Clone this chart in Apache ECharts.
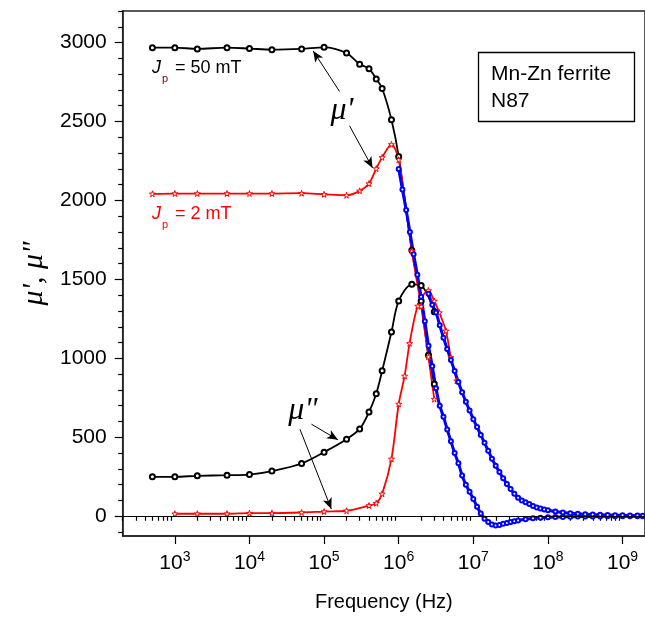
<!DOCTYPE html>
<html><head><meta charset="utf-8">
<script src="https://cdn.jsdelivr.net/npm/echarts@6/dist/echarts.min.js"></script>
<style>html,body{margin:0;padding:0;background:#fff}#c{width:645px;height:617px}</style>
</head><body><div id="c"></div>
<script>
// ---- data (frequency in Hz, permeability values) ----
const blackMuPFreq = [500, 1e3, 2e3, 5e3, 1e4, 2e4, 5e4, 1e5, 2e5, 3e5, 4e5, 5e5, 6e5, 8e5, 1e6, 1.5e6, 2e6, 2.5e6, 3e6];
const blackMuP     = [2968, 2968, 2960, 2968, 2962, 2955, 2960, 2970, 2934, 2863, 2835, 2770, 2709, 2511, 2279, 1685, 1363, 1020, 837];
const blackMuPPFreq = [500, 1e3, 2e3, 5e3, 1e4, 2e4, 5e4, 1e5, 2e5, 3e5, 4e5, 5e5, 6e5, 8e5, 1e6, 1.5e6, 2e6, 3e6];
const blackMuPP     = [250, 250, 256, 260, 264, 286, 334, 406, 488, 553, 660, 776, 921, 1167, 1364, 1469, 1462, 1296];
const redMuPFreq = [500, 1e3, 2e3, 5e3, 1e4, 2e4, 5e4, 1e5, 2e5, 3e5, 4e5, 5e5, 6e5, 8e5, 1e6, 1.5e6, 2e6, 2.5e6, 3e6];
const redMuP     = [2042, 2044, 2044, 2044, 2044, 2044, 2046, 2039, 2033, 2061, 2107, 2202, 2273, 2355, 2258, 1679, 1330, 1010, 742];
const redMuPPFreq = [1e3, 2e3, 5e3, 1e4, 2e4, 5e4, 1e5, 2e5, 4e5, 5e5, 6e5, 8e5, 1e6, 1.2e6, 1.4e6, 1.8e6, 2.5e6, 3e6, 3.5e6, 4.3e6, 5e6, 6e6];
const redMuPP     = [16, 16, 16, 20, 20, 24, 30, 35, 68, 83, 142, 363, 711, 889, 1095, 1332, 1430, 1363, 1290, 1174, 1006, 858];
// high-frequency measurement (log10 of frequency in Hz)
const blueMuPLogF = [6.00,6.05,6.10,6.15,6.20,6.25,6.30,6.35,6.40,6.45,6.50,6.55,6.60,6.65,6.70,6.75,6.80,6.85,6.90,6.95,7.00,7.05,7.10,7.15,7.20,7.25,7.30,7.35,7.40,7.45,7.50,7.55,7.60,7.70,7.80,7.90,8.00,8.10,8.20,8.30,8.40,8.50,8.60,8.70,8.80,8.90,9.00,9.10,9.20,9.27];
const blueMuP     = [2200,2070,1940,1800,1660,1530,1390,1235,1080,950,810,700,630,550,475,400,335,258,200,155,110,60,18,-15,-37,-52,-59,-55,-48,-42,-37,-32,-27,-19,-13,-9,-7,-5,-4,-3,-2,-2,-1,-1,0,0,0,0,0,0];
const blueMuPPLogF = [6.40,6.45,6.50,6.55,6.60,6.65,6.70,6.75,6.80,6.85,6.90,6.95,7.00,7.05,7.10,7.15,7.20,7.25,7.30,7.35,7.40,7.45,7.50,7.55,7.60,7.65,7.70,7.75,7.80,7.85,7.90,7.95,8.00,8.10,8.20,8.30,8.40,8.50,8.60,8.70,8.80,8.90,9.00,9.10,9.20,9.27];
const blueMuPP     = [1410,1340,1290,1210,1130,1060,990,920,850,785,725,670,615,565,515,465,415,365,320,280,240,205,172,142,118,100,88,78,65,56,49,43,38,30,24,19,16,13,11,9,8,7,6,5,5,4];
const yMajorTicks = [0, 500, 1000, 1500, 2000, 2500, 3000];
const xMajorExp = [3, 4, 5, 6, 7, 8, 9];

// ---- build ----
const lg = Math.log10;
const fPairs = (f, v) => f.map((x, i) => [lg(x), v[i]]);
const lPairs = (l, v) => l.map((x, i) => [x, v[i]]);
const xMin = lg(200), xMax = lg(2e9);
const minorX = [];
for (let n = 2; n <= 9; n++) for (let k = 2; k <= 9; k++) { const f = k * Math.pow(10, n); if (f >= 200 && f <= 2e9) minorX.push(lg(f)); }
const minorY = [];
for (let v = -100; v <= 3200; v += 100) if (v % 500 !== 0) minorY.push(v);

const STAR = 'path://M50,0 L61,35 L98,35 L68,57 L79,91 L50,70 L21,91 L32,57 L2,35 L39,35 Z';
const SANS = 'Liberation Sans';
const arrow = (a, b) => [{coord: a}, {coord: b}];

const chart = echarts.init(document.getElementById('c'), null, {renderer: 'canvas'});
chart.setOption({
  animation: false,
  backgroundColor: '#fff',
  grid: {left: 122.7, top: 11, right: -5, bottom: 80, show: true, borderColor: '#222', borderWidth: 1.5, backgroundColor: 'transparent'},
  xAxis: [{
    type: 'value', min: xMin, max: xMax, position: 'bottom',
    axisLine: {show: true, onZero: false, lineStyle: {color: '#222', width: 1.5}},
    axisTick: {show: true, customValues: xMajorExp, length: 8, lineStyle: {color: '#000', width: 1.2}},
    axisLabel: {customValues: xMajorExp, margin: 14,
      formatter: v => '{a|10}{b|' + Math.round(v) + '}',
      rich: {a: {fontSize: 21, fontFamily: SANS, color: '#000', lineHeight: 26},
             b: {fontSize: 14, fontFamily: SANS, color: '#000', lineHeight: 14, verticalAlign: 'top'}}},
    splitLine: {show: false},
    name: 'Frequency (Hz)', nameLocation: 'middle', nameGap: 56,
    nameTextStyle: {fontSize: 20, fontFamily: SANS, color: '#000'}
  }, {
    type: 'value', min: xMin, max: xMax, position: 'bottom',
    axisLine: {show: false}, axisLabel: {show: false}, splitLine: {show: false},
    axisTick: {show: true, customValues: minorX, length: 4.5, lineStyle: {color: '#000', width: 1.2}}
  }],
  yAxis: [{
    type: 'value', min: -125, max: 3200, position: 'left',
    axisLine: {show: true, onZero: false, lineStyle: {color: '#222', width: 1.5}},
    axisTick: {show: true, customValues: yMajorTicks, length: 8, lineStyle: {color: '#000', width: 1.2}},
    axisLabel: {customValues: yMajorTicks, margin: 16, fontSize: 21, fontFamily: SANS, color: '#000', formatter: v => String(Math.round(v))},
    splitLine: {show: false},
    name: 'μ\', μ"', nameLocation: 'middle', nameGap: 66,
    nameTextStyle: {fontSize: 30, fontFamily: 'Liberation Serif', fontStyle: 'italic', color: '#000'}
  }, {
    type: 'value', min: -125, max: 3200, position: 'left',
    axisLine: {show: false}, axisLabel: {show: false}, splitLine: {show: false},
    axisTick: {show: true, customValues: minorY, length: 4.5, lineStyle: {color: '#000', width: 1.2}}
  }],
  series: [
    {type: 'line', data: fPairs(blackMuPFreq, blackMuP), smooth: 0.3, symbol: 'emptyCircle', symbolSize: 5,
     itemStyle: {color: '#000', borderWidth: 1}, lineStyle: {color: '#000', width: 1.8}, silent: true,
     markLine: {silent: true, symbol: ['none', 'none'], label: {show: false},
       lineStyle: {color: '#000', width: 1, type: 'solid'}, data: [{yAxis: 0}]}},
    {type: 'line', data: fPairs(blackMuPPFreq, blackMuPP), smooth: 0.3, symbol: 'emptyCircle', symbolSize: 5,
     itemStyle: {color: '#000', borderWidth: 1}, lineStyle: {color: '#000', width: 1.8}, silent: true,
     markLine: {silent: true, symbol: ['none', 'arrow'], symbolSize: [7, 11], label: {show: false},
       lineStyle: {color: '#000', width: 1, type: 'solid'},
       data: [arrow([5.208, 2690], [4.854, 2947]), arrow([5.341, 2473], [5.650, 2206]),
              arrow([4.831, 583], [5.186, 484]), arrow([4.677, 551], [5.097, 46])]}},
    {type: 'line', data: fPairs(redMuPFreq, redMuP), smooth: 0.3, symbol: STAR, symbolSize: 6,
     itemStyle: {color: '#fff', borderColor: '#ff0000', borderWidth: 1}, lineStyle: {color: '#ff0000', width: 1.8}, silent: true},
    {type: 'line', data: fPairs(redMuPPFreq, redMuPP), smooth: 0.3, symbol: STAR, symbolSize: 6,
     itemStyle: {color: '#fff', borderColor: '#ff0000', borderWidth: 1}, lineStyle: {color: '#ff0000', width: 1.8}, silent: true},
    {type: 'line', data: lPairs(blueMuPLogF, blueMuP), smooth: 0.3, symbol: 'emptyCircle', symbolSize: 4,
     itemStyle: {color: '#0000ff', borderWidth: 1}, lineStyle: {color: '#0000ff', width: 3}, silent: true},
    {type: 'line', data: lPairs(blueMuPPLogF, blueMuPP), smooth: 0.3, symbol: 'emptyCircle', symbolSize: 4,
     itemStyle: {color: '#0000ff', borderWidth: 1}, lineStyle: {color: '#0000ff', width: 3}, silent: true}
  ],
  graphic: [
    {type: 'rect', shape: {x: 478.5, y: 52.5, width: 156, height: 69}, style: {fill: '#fff', stroke: '#000', lineWidth: 1.3}, z: 10},
    {type: 'text', x: 491, y: 74, z: 11, style: {text: 'Mn-Zn ferrite', font: '21px "Liberation Sans"', fill: '#000', textVerticalAlign: 'middle', verticalAlign: 'middle'}},
    {type: 'text', x: 491, y: 101, z: 11, style: {text: 'N87', font: '21px "Liberation Sans"', fill: '#000', textVerticalAlign: 'middle', verticalAlign: 'middle'}},
    {type: 'text', x: 152, y: 68, z: 11, style: {text: 'J', font: 'italic 18px "Liberation Sans"', fill: '#000', textVerticalAlign: 'middle', verticalAlign: 'middle'}},
    {type: 'text', x: 162, y: 79, z: 11, style: {text: 'p', font: '11px "Liberation Sans"', fill: '#700000', textVerticalAlign: 'middle', verticalAlign: 'middle'}},
    {type: 'text', x: 175, y: 68, z: 11, style: {text: '= 50 mT', font: '18px "Liberation Sans"', fill: '#000', textVerticalAlign: 'middle', verticalAlign: 'middle'}},
    {type: 'text', x: 152, y: 214, z: 11, style: {text: 'J', font: 'italic 18px "Liberation Sans"', fill: '#ff0000', textVerticalAlign: 'middle', verticalAlign: 'middle'}},
    {type: 'text', x: 162, y: 225, z: 11, style: {text: 'p', font: '11px "Liberation Sans"', fill: '#ff0000', textVerticalAlign: 'middle', verticalAlign: 'middle'}},
    {type: 'text', x: 175, y: 214, z: 11, style: {text: '= 2 mT', font: '18px "Liberation Sans"', fill: '#ff0000', textVerticalAlign: 'middle', verticalAlign: 'middle'}},
    {type: 'text', x: 342, y: 111, z: 11, style: {text: "μ'", font: 'italic 32px "Liberation Serif"', fill: '#000', textAlign: 'center', align: 'center', textVerticalAlign: 'middle', verticalAlign: 'middle'}},
    {type: 'text', x: 303, y: 411, z: 11, style: {text: 'μ"', font: 'italic 32px "Liberation Serif"', fill: '#000', textAlign: 'center', align: 'center', textVerticalAlign: 'middle', verticalAlign: 'middle'}}
  ]
});
</script></body></html>
